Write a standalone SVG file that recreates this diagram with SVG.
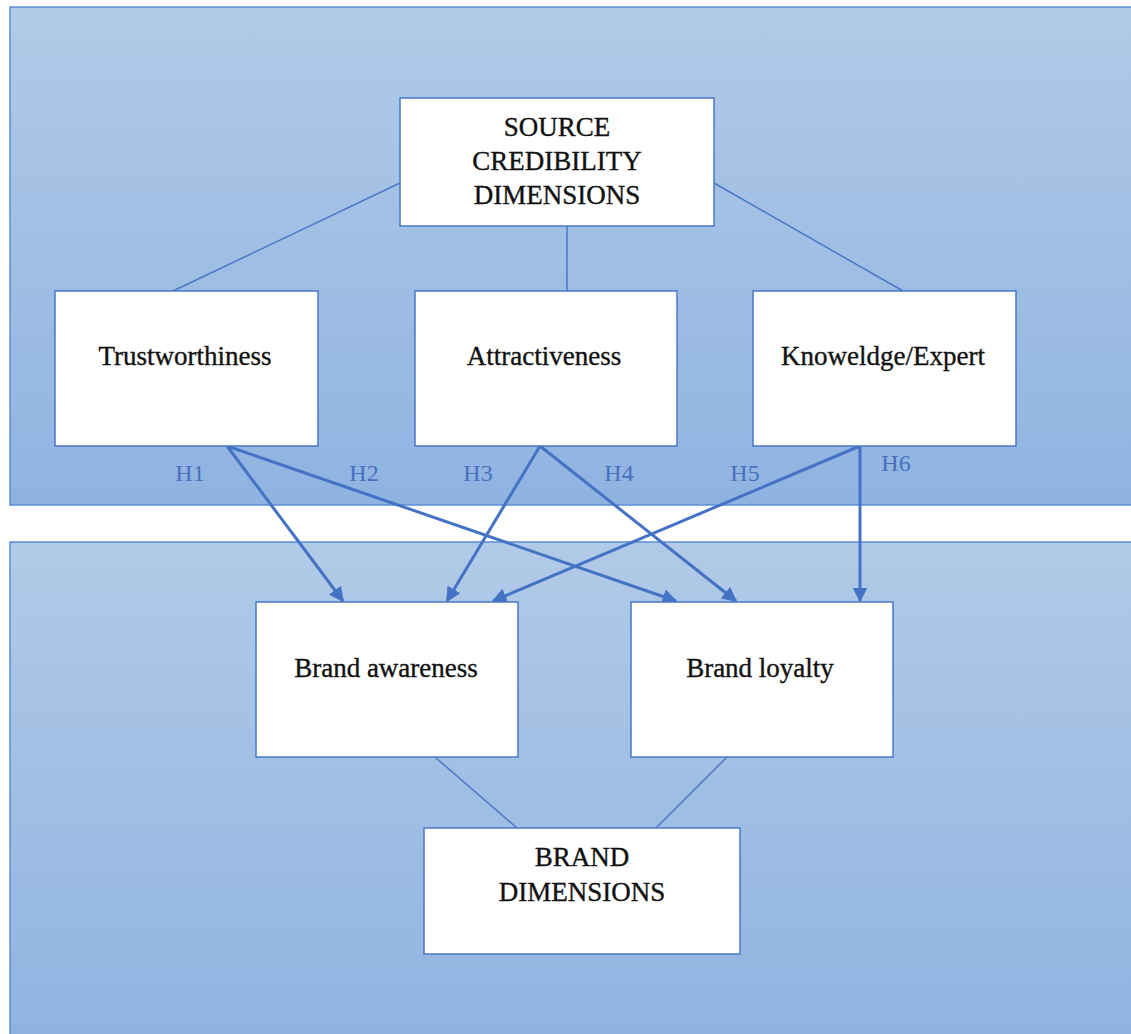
<svg xmlns="http://www.w3.org/2000/svg" width="1131" height="1034" viewBox="0 0 1131 1034">
  <defs>
    <linearGradient id="panelGrad" x1="0" y1="0" x2="0" y2="1">
      <stop offset="0" stop-color="#b1cae7"/>
      <stop offset="1" stop-color="#8fb3e1"/>
    </linearGradient>
    <marker id="arrow" viewBox="0 0 10 10" refX="9" refY="5" markerWidth="5" markerHeight="5" orient="auto" markerUnits="strokeWidth">
      <path d="M0,0 L10,5 L0,10 z" fill="#4472c4"/>
    </marker>
    <style>
      .panel { fill: url(#panelGrad); stroke: #5b8fd6; stroke-width: 1.5; }
      .box { fill: #ffffff; stroke: #4a78c8; stroke-width: 1.5; }
      .lbl { font-family: "Liberation Serif", "Times New Roman", serif; font-size: 27px; fill: #111111; stroke: #111111; stroke-width: 0.35; text-anchor: middle; }
      .h { font-family: "Liberation Serif", "Times New Roman", serif; font-size: 24px; fill: #4a6fbf; text-anchor: middle; }
      .thin { stroke: #4a78c8; stroke-width: 1.5; fill: none; }
      .arr { stroke: #4472c4; stroke-width: 3; fill: none; marker-end: url(#arrow); }
    </style>
  </defs>

  <rect x="0" y="0" width="1131" height="1034" fill="#ffffff"/>

  <g id="panel-top">
    <rect class="panel" x="10" y="7" width="1135" height="498"/>
  </g>
  <g id="panel-bottom">
    <rect class="panel" x="10" y="542" width="1135" height="500"/>
  </g>

  <g id="connectors">
    <line class="thin" x1="400" y1="183" x2="173" y2="291"/>
    <line class="thin" x1="567" y1="226" x2="567" y2="291"/>
    <line class="thin" x1="714" y1="183" x2="903" y2="291"/>
    <line class="thin" x1="435" y1="757" x2="517" y2="828"/>
    <line class="thin" x1="727" y1="757" x2="656" y2="828"/>
    <line class="arr" x1="227" y1="446" x2="343" y2="601"/>
    <line class="arr" x1="227" y1="446" x2="676" y2="601"/>
    <line class="arr" x1="540" y1="446" x2="447" y2="601"/>
    <line class="arr" x1="540" y1="446" x2="736" y2="601"/>
    <line class="arr" x1="860" y1="446" x2="493" y2="601"/>
    <line class="arr" x1="860" y1="446" x2="860" y2="601"/>
  </g>

  <g id="hypothesis-labels">
    <text class="h" x="190" y="481">H1</text>
    <text class="h" x="364" y="481">H2</text>
    <text class="h" x="478" y="481">H3</text>
    <text class="h" x="619" y="481">H4</text>
    <text class="h" x="745" y="481">H5</text>
    <text class="h" x="896" y="471">H6</text>
  </g>

  <g id="node-source">
    <rect class="box" x="400" y="98" width="314" height="128"/>
    <text class="lbl" x="557" y="136">SOURCE</text>
    <text class="lbl" x="557" y="170">CREDIBILITY</text>
    <text class="lbl" x="557" y="204">DIMENSIONS</text>
  </g>
  <g id="node-trust">
    <rect class="box" x="55" y="291" width="263" height="155"/>
    <text class="lbl" x="185" y="365">Trustworthiness</text>
  </g>
  <g id="node-attract">
    <rect class="box" x="415" y="291" width="262" height="155"/>
    <text class="lbl" x="544" y="365">Attractiveness</text>
  </g>
  <g id="node-knowledge">
    <rect class="box" x="753" y="291" width="263" height="155"/>
    <text class="lbl" x="883" y="365">Knoweldge/Expert</text>
  </g>
  <g id="node-awareness">
    <rect class="box" x="256" y="602" width="262" height="155"/>
    <text class="lbl" x="386" y="677">Brand awareness</text>
  </g>
  <g id="node-loyalty">
    <rect class="box" x="631" y="602" width="262" height="155"/>
    <text class="lbl" x="760" y="677">Brand loyalty</text>
  </g>
  <g id="node-brand-dim">
    <rect class="box" x="424" y="828" width="316" height="126"/>
    <text class="lbl" x="582" y="866">BRAND</text>
    <text class="lbl" x="582" y="901">DIMENSIONS</text>
  </g>
</svg>
